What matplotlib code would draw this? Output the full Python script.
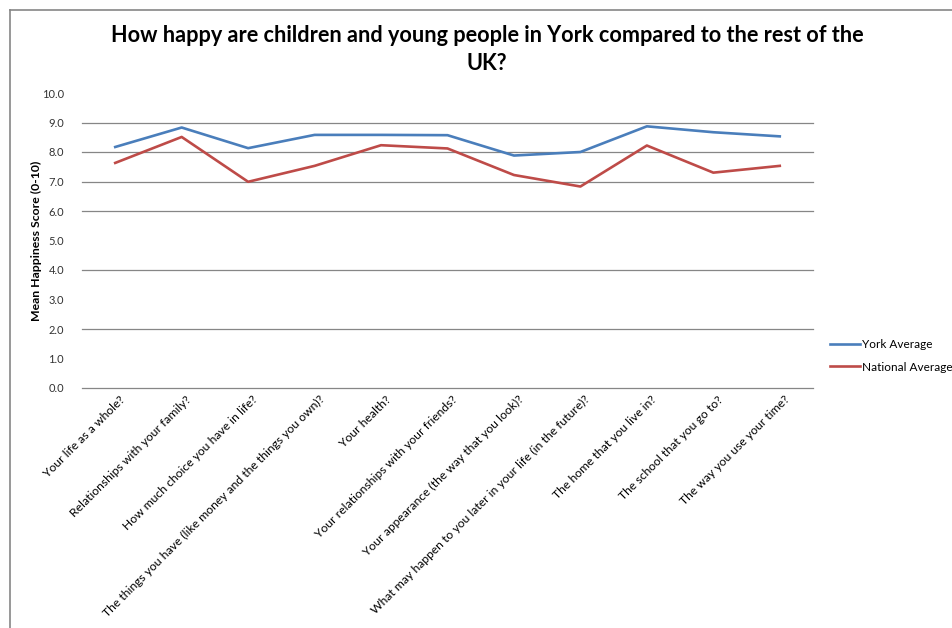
import matplotlib
matplotlib.use("Agg")
import matplotlib.pyplot as plt
from matplotlib.lines import Line2D
import matplotlib.transforms as mtransforms

plt.rcParams['font.family'] = ['Lato', 'DejaVu Sans']

questions = [
    "Your life as a whole?",
    "Relationships with your family?",
    "How much choice you have in life?",
    "The things you have (like money and the things you own)?",
    "Your health?",
    "Your relationships with your friends?",
    "Your appearance (the way that you look)?",
    "What may happen to you later in your life (in the future)?",
    "The home that you live in?",
    "The school that you go to?",
    "The way you use your time?",
]
york_avg = [8.17, 8.83, 8.13, 8.58, 8.58, 8.57, 7.88, 8.00, 8.87, 8.67, 8.53]
national_avg = [7.63, 8.51, 6.99, 7.53, 8.23, 8.12, 7.22, 6.83, 8.22, 7.30, 7.53]
grid_levels = [0, 2, 4, 6, 7, 8, 9]

york_color = "#4A7EBB"
national_color = "#BE4B48"
grid_color = "#868686"

fig = plt.figure(figsize=(9.52, 6.28), dpi=100)
ax = fig.add_axes([82 / 952, 240 / 628, 731 / 952, 295 / 628])

x = list(range(len(questions)))
ax.plot(x, york_avg, color=york_color, lw=1.9, label="York Average", zorder=3)
ax.plot(x, national_avg, color=national_color, lw=1.9, label="National Average", zorder=3)

for g in grid_levels:
    ax.axhline(g, color=grid_color, lw=0.9, zorder=1, clip_on=False)

ax.set_xlim(-0.5, len(questions) - 0.5)
ax.set_ylim(0, 10)
ax.set_yticks(range(0, 11))
ax.set_yticklabels([f"{v:.1f}" for v in range(0, 11)], fontsize=8, color="#333333")
ax.tick_params(axis="y", length=0, pad=13)
ax.tick_params(axis="x", length=0)
for s in ax.spines.values():
    s.set_visible(False)

ax.set_xticks(x)
ax.set_xticklabels(questions, rotation=45, ha="right", va="top",
                   rotation_mode="anchor", fontsize=8.7)
offset = mtransforms.ScaledTranslation(4 / 100, -1 / 100, fig.dpi_scale_trans)
for lbl in ax.get_xticklabels():
    lbl.set_transform(lbl.get_transform() + offset)

ax.set_ylabel("Mean Happiness Score (0-10)", fontsize=8.8, fontweight="bold")
ax.yaxis.set_label_coords(-40 / 731, 0.5)

fig.text(487 / 952, 1 - 25 / 628,
         "How happy are children and young people in York compared to the rest of the\nUK?",
         ha="center", va="top", fontsize=15.6, fontweight="bold", linespacing=1.4)

fig.legend(loc="center left", bbox_to_anchor=(830 / 952, 1 - 356 / 628),
           frameon=False, fontsize=8.5, handlelength=2.5, handletextpad=0.2,
           labelspacing=0.95, borderaxespad=0, borderpad=0)

# chart area border (left and top edges only)
fig.add_artist(Line2D([10 / 952, 10 / 952], [0, 1 - 10 / 628],
                      transform=fig.transFigure, color=grid_color, lw=1.2))
fig.add_artist(Line2D([10 / 952, 1], [1 - 10 / 628, 1 - 10 / 628],
                      transform=fig.transFigure, color=grid_color, lw=1.2))

fig.savefig("out.png", dpi=100)
